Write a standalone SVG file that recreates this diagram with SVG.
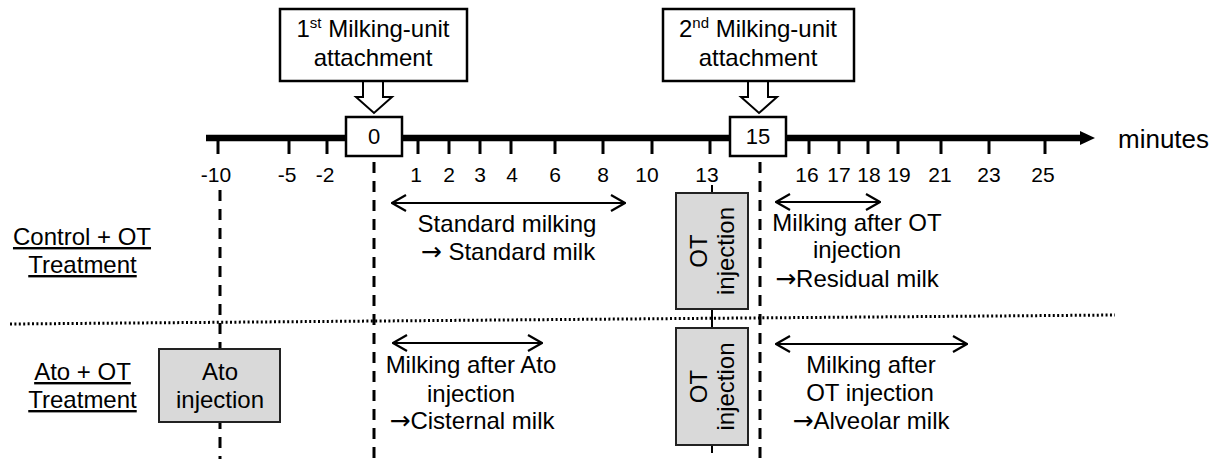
<svg xmlns="http://www.w3.org/2000/svg" width="1229" height="459" viewBox="0 0 1229 459">
<defs>
<style>
text{font-family:"Liberation Sans",Arial,sans-serif;fill:#000;}
.t24{font-size:24px;text-anchor:middle;}
.tick{font-size:21px;text-anchor:middle;}
.sup{font-size:15px;}
.arr{font-family:"DejaVu Sans",sans-serif;font-size:25px;}
.box{fill:#fff;stroke:#000;stroke-width:2.5;}
.gbox{fill:#d9d9d9;stroke:#222;stroke-width:2;}
.dash{stroke:#000;stroke-width:3;stroke-dasharray:11 8;fill:none;}
.dot{stroke:#000;stroke-width:3;stroke-dasharray:2 2.4;fill:none;}
.dbl{stroke:#000;stroke-width:2;fill:none;marker-start:url(#chevS);marker-end:url(#chevE);}
.tk{stroke:#000;stroke-width:3;}
.ul{text-decoration:underline;}
</style>
<marker id="chevE" viewBox="0 0 16 18" refX="15" refY="9" markerWidth="16" markerHeight="18" markerUnits="userSpaceOnUse" orient="auto">
<path d="M1,1 L15,9 L1,17" fill="none" stroke="#000" stroke-width="2.2"/>
</marker>
<marker id="chevS" viewBox="0 0 16 18" refX="1" refY="9" markerWidth="16" markerHeight="18" markerUnits="userSpaceOnUse" orient="auto">
<path d="M15,1 L1,9 L15,17" fill="none" stroke="#000" stroke-width="2.2"/>
</marker>
</defs>
<rect width="1229" height="459" fill="#fff"/>

<g id="connectors">
<line x1="206" y1="138" x2="1082" y2="138" stroke="#000" stroke-width="6.5"/>
<polygon points="1080,131 1095,138 1080,145" fill="#000"/>
<g class="tk">
<line x1="218" y1="138" x2="218" y2="154"/>
<line x1="289" y1="138" x2="289" y2="154"/>
<line x1="327" y1="138" x2="327" y2="154"/>
<line x1="418" y1="138" x2="418" y2="154"/>
<line x1="449" y1="138" x2="449" y2="154"/>
<line x1="480" y1="138" x2="480" y2="154"/>
<line x1="511" y1="138" x2="511" y2="154"/>
<line x1="555" y1="138" x2="555" y2="154"/>
<line x1="603" y1="138" x2="603" y2="154"/>
<line x1="652" y1="138" x2="652" y2="154"/>
<line x1="710" y1="138" x2="710" y2="154"/>
<line x1="809" y1="138" x2="809" y2="154"/>
<line x1="839" y1="138" x2="839" y2="154"/>
<line x1="868" y1="138" x2="868" y2="154"/>
<line x1="898" y1="138" x2="898" y2="154"/>
<line x1="941" y1="138" x2="941" y2="154"/>
<line x1="989" y1="138" x2="989" y2="154"/>
<line x1="1045" y1="138" x2="1045" y2="154"/>
</g>
<line class="dash" x1="220" y1="190" x2="220" y2="459"/>
<line class="dash" x1="374" y1="162" x2="374" y2="459"/>
<line class="dash" x1="760" y1="162" x2="760" y2="459"/>
<line x1="712" y1="185" x2="712" y2="453" stroke="#000" stroke-width="2"/>
<line class="dot" x1="10" y1="324" x2="1115" y2="315"/>
<line class="dbl" x1="392" y1="203" x2="625" y2="203"/>
<line class="dbl" x1="393" y1="343" x2="542" y2="343"/>
<line class="dbl" x1="776" y1="202" x2="880" y2="202"/>
<line class="dbl" x1="776" y1="344" x2="967" y2="344"/>
<path d="M363,81 L383,81 L383,97 L392,97 L374,113 L356,97 L363,97 Z" fill="#fff" stroke="#000" stroke-width="2"/>
<path d="M748,81 L768,81 L768,97 L777,97 L759,113 L741,97 L748,97 Z" fill="#fff" stroke="#000" stroke-width="2"/>
</g>

<g id="tick-labels">
<text class="tick" x="216" y="182">-10</text>
<text class="tick" x="287" y="182">-5</text>
<text class="tick" x="325" y="182">-2</text>
<text class="tick" x="416" y="182">1</text>
<text class="tick" x="449" y="182">2</text>
<text class="tick" x="480" y="182">3</text>
<text class="tick" x="512" y="182">4</text>
<text class="tick" x="555" y="182">6</text>
<text class="tick" x="603" y="182">8</text>
<text class="tick" x="647" y="182">10</text>
<text class="tick" x="707" y="182">13</text>
<text class="tick" x="807" y="182">16</text>
<text class="tick" x="839" y="182">17</text>
<text class="tick" x="869" y="182">18</text>
<text class="tick" x="899" y="182">19</text>
<text class="tick" x="940" y="182">21</text>
<text class="tick" x="989" y="182">23</text>
<text class="tick" x="1043" y="182">25</text>
<text x="1118" y="148" style="font-size:26px">minutes</text>
</g>

<g id="attach1">
<rect class="box" x="280" y="9" width="187" height="72"/>
<text class="t24" x="373" y="37">1<tspan class="sup" dy="-9">st</tspan><tspan dy="9"> Milking-unit</tspan></text>
<text class="t24" x="373" y="66">attachment</text>
</g>

<g id="attach2">
<rect class="box" x="663" y="9" width="191" height="72"/>
<text class="t24" x="758" y="37">2<tspan class="sup" dy="-9">nd</tspan><tspan dy="9"> Milking-unit</tspan></text>
<text class="t24" x="758" y="66">attachment</text>
</g>

<g id="t0">
<rect class="box" x="346" y="117" width="56" height="39"/>
<text x="374" y="144" style="font-size:22px;text-anchor:middle">0</text>
</g>

<g id="t15">
<rect class="box" x="730" y="117" width="56" height="39"/>
<text x="758" y="144" style="font-size:22px;text-anchor:middle">15</text>
</g>

<g id="label-control">
<text class="t24 ul" x="82" y="245">Control + OT</text>
<text class="t24 ul" x="82.5" y="273">Treatment</text>
</g>

<g id="label-ato">
<text class="t24 ul" x="82.5" y="380">Ato + OT</text>
<text class="t24 ul" x="82.5" y="408">Treatment</text>
</g>

<g id="ato-injection">
<rect class="gbox" x="159" y="349" width="121" height="73"/>
<text class="t24" x="220" y="380">Ato</text>
<text class="t24" x="220" y="408">injection</text>
</g>

<g id="ot-injection-1">
<rect class="gbox" x="676" y="193" width="72" height="116"/>
<g transform="translate(712,251) rotate(-90)">
<text class="t24" x="0" y="-5">OT</text>
<text class="t24" x="0" y="22">injection</text>
</g>
</g>

<g id="ot-injection-2">
<rect class="gbox" x="676" y="328" width="72" height="117"/>
<g transform="translate(712,386.5) rotate(-90)">
<text class="t24" x="0" y="-5">OT</text>
<text class="t24" x="0" y="22">injection</text>
</g>
</g>

<g id="standard-milking">
<text class="t24" x="507" y="232">Standard milking</text>
<text class="t24" x="508" y="260"><tspan class="arr">→</tspan> Standard milk</text>
</g>

<g id="milking-after-ato">
<text class="t24" x="471" y="373">Milking after Ato</text>
<text class="t24" x="471" y="402">injection</text>
<text class="t24" x="472" y="429"><tspan class="arr">→</tspan>Cisternal milk</text>
</g>

<g id="milking-after-ot-1">
<text class="t24" x="857" y="231">Milking after OT</text>
<text class="t24" x="857" y="258">injection</text>
<text class="t24" x="857" y="287"><tspan class="arr">→</tspan>Residual milk</text>
</g>

<g id="milking-after-ot-2">
<text class="t24" x="871" y="373">Milking after</text>
<text class="t24" x="870" y="401">OT injection</text>
<text class="t24" x="871" y="429"><tspan class="arr">→</tspan>Alveolar milk</text>
</g>
</svg>
